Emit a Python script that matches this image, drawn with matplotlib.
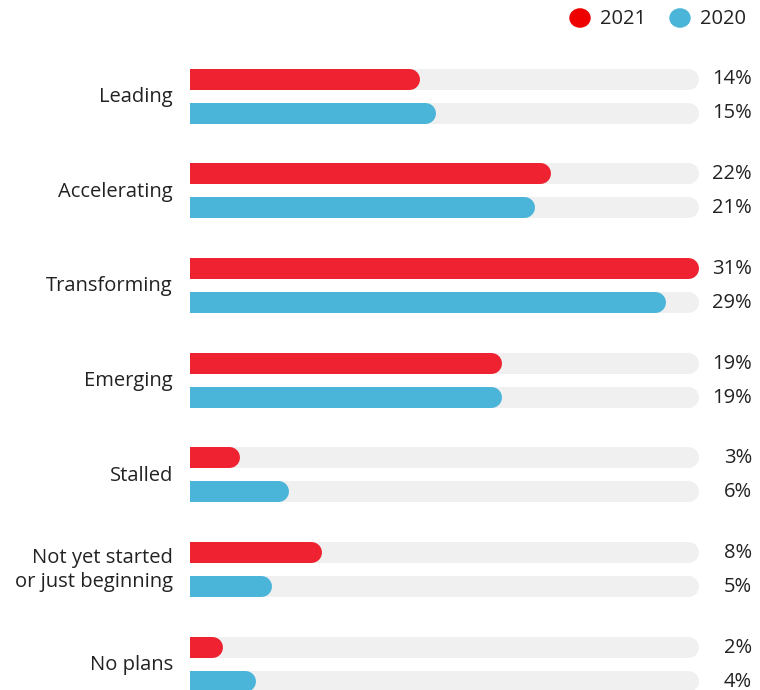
import matplotlib
matplotlib.use("Agg")
import matplotlib.pyplot as plt
from matplotlib.patches import Circle

categories = ["Leading", "Accelerating", "Transforming", "Emerging",
              "Stalled", "Not yet started\nor just beginning", "No plans"]
vals_2021 = [14, 22, 31, 19, 3, 8, 2]
vals_2020 = [15, 21, 29, 19, 6, 5, 4]
series_names = ["2021", "2020"]

RED = "#ee2230"
BLUE = "#4ab5d8"
TRACK = "#f0f0f0"
TEXT = "#222222"
FONT = ["Open Sans", "DejaVu Sans"]
FS = 14.5

W, H, DPI = 760, 690, 100
vmax = max(vals_2021 + vals_2020)

fig = plt.figure(figsize=(W / DPI, H / DPI), dpi=DPI)
fig.patch.set_facecolor("white")

# axes spans the bar area horizontally; y is in pixel units from the top
x0, x_full = 190, 698
px_per_unit = (x_full - x0) / vmax
xmax = vmax + 0.6
ax_w = xmax * px_per_unit
ax = fig.add_axes([x0 / W, 0, ax_w / W, 1])
ax.set_xlim(0, xmax)
ax.set_ylim(H, 0)
ax.axis("off")

bar_px = 21
lw = bar_px * 72 / DPI
r = (bar_px / 2) / px_per_unit  # cap radius in data units

first_center = 78.5
step = 94.67
gap = 34


def rounded_bar(y, v, color, z):
    # round caps on both ends; the left one is clipped by the axes edge
    ax.plot([-1, v - r], [y, y], color=color, lw=lw,
            solid_capstyle="round", zorder=z)


for i, cat in enumerate(categories):
    y_red = first_center + i * step
    y_blue = y_red + gap
    for y, v, c in [(y_red, vals_2021[i], RED), (y_blue, vals_2020[i], BLUE)]:
        rounded_bar(y, vmax, TRACK, 1)
        rounded_bar(y, v, c, 2)
        fig.text(752 / W, 1 - (y + 1) / H, f"{v}%", ha="right", va="center",
                 fontsize=FS, color=TEXT, family=FONT)
    fig.text(173 / W, 1 - (y_red + gap / 2 + 1.5) / H, cat, ha="right",
             va="center", fontsize=FS, color=TEXT, family=FONT,
             linespacing=1.25, multialignment="right")

# legend
for cx, tx, c, name in [(580, 600, "#ee0000", series_names[0]),
                        (680, 700, BLUE, series_names[1])]:
    fig.patches.append(Circle((cx / W, 1 - 18 / H), 10 / W,
                              transform=fig.transFigure, color=c))
    fig.text(tx / W, 1 - 19 / H, name, ha="left", va="center",
             fontsize=FS, color=TEXT, family=FONT)

fig.savefig("out.png", dpi=DPI)
